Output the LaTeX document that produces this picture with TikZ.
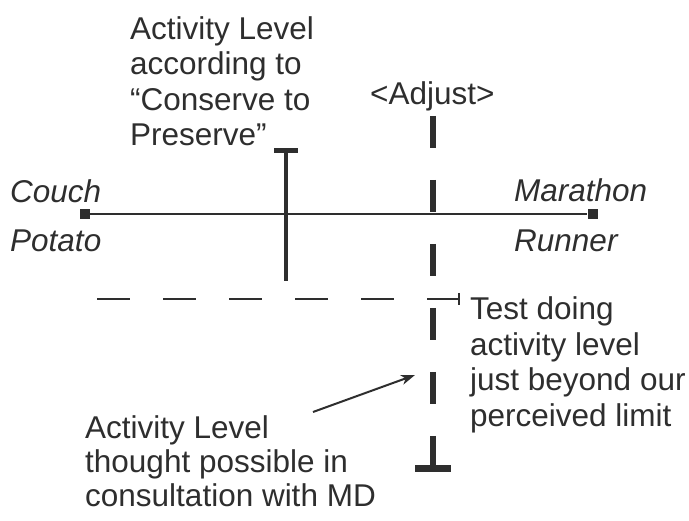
\documentclass[tikz,border=0pt]{standalone}
\usepackage{fontspec}
\setmainfont{Liberation Sans}
\usetikzlibrary{arrows.meta}
\definecolor{ink}{HTML}{2E2E2E}
\tikzset{
  txt/.style={anchor=base west, inner sep=0pt, text=ink, font=\fontsize{31.5}{35}\selectfont},
  itxt/.style={txt, font=\fontsize{31.5}{35}\selectfont\itshape},
  endsq/.style={fill=ink, draw=none, minimum size=10pt, inner sep=0pt},
  scale line/.style={draw=ink, line width=2pt},
  solidbar/.style={draw=ink, line width=4pt},
  adjline/.style={draw=ink, line width=6pt, dash pattern=on 32pt off 32pt},
  limline/.style={draw=ink, line width=2.5pt, dash pattern=on 33pt off 33pt},
}
\begin{document}
\begin{tikzpicture}[x=1pt,y=-1pt]
\useasboundingbox (0,0) rectangle (689,521);
% top label
\node[txt] (t1) at (130,39.5) {Activity Level};
\node[txt] (t2) at (130,75) {according to};
\node[txt] (t3) at (130,110.5) {“Conserve to};
\node[txt] (t4) at (130,146) {Preserve”};
% adjust label
\node[txt] (adj) at (370,105) {<Adjust>};
% end labels
\node[itxt] (c1) at (10,203) {Couch};
\node[itxt] (c2) at (10,251.5) {Potato};
\node[itxt] (m1) at (514,202) {Marathon};
\node[itxt] (m2) at (514,251.5) {Runner};
% test label
\node[txt] (s1) at (470,320) {Test doing};
\node[txt] (s2) at (470,355.5) {activity level};
\node[txt] (s3) at (470,391) {just beyond our};
\node[txt] (s4) at (470,426.5) {perceived limit};
% bottom label
\node[txt] (b1) at (85,439) {Activity Level};
\node[txt] (b2) at (85,473) {thought possible in};
\node[txt] (b3) at (85,507) {consultation with MD};
% scale
\node[endsq] (cp) at (84.5,214.5) {};
\node[endsq] (mr) at (592.5,214.5) {};
\draw[scale line] (cp) -- (mr);
% conserve to preserve bar
\coordinate (ctop) at (286,150.5);
\coordinate (cbot) at (286,281);
\coordinate (capl) at (274,150.5);
\coordinate (capr) at (298,150.5);
\draw[solidbar] (ctop) -- (cbot);
\draw[draw=ink, line width=5pt] (capl) -- (capr);
% adjust dashed bar
\coordinate (atop) at (433,116);
\coordinate (abot) at (433,469);
\coordinate (abl) at (415,469);
\coordinate (abr) at (451,469);
\draw[adjline] (atop) -- (abot);
\draw[draw=ink, line width=7pt] (abl) -- (abr);
% horizontal dashed limit
\coordinate (hl) at (97,299);
\coordinate (hr) at (459,299);
\coordinate (htt) at (459,293);
\coordinate (htb) at (459,305);
\draw[limline] (hl) -- (hr);
\draw[draw=ink, line width=2pt] (htt) -- (htb);
% arrow
\coordinate (arA) at (313,412);
\coordinate (arB) at (415,375);
\draw[draw=ink, line width=2pt, -{Stealth[length=14pt,width=10pt,inset=4pt]}] (arA) -- (arB);
\end{tikzpicture}
\end{document}
